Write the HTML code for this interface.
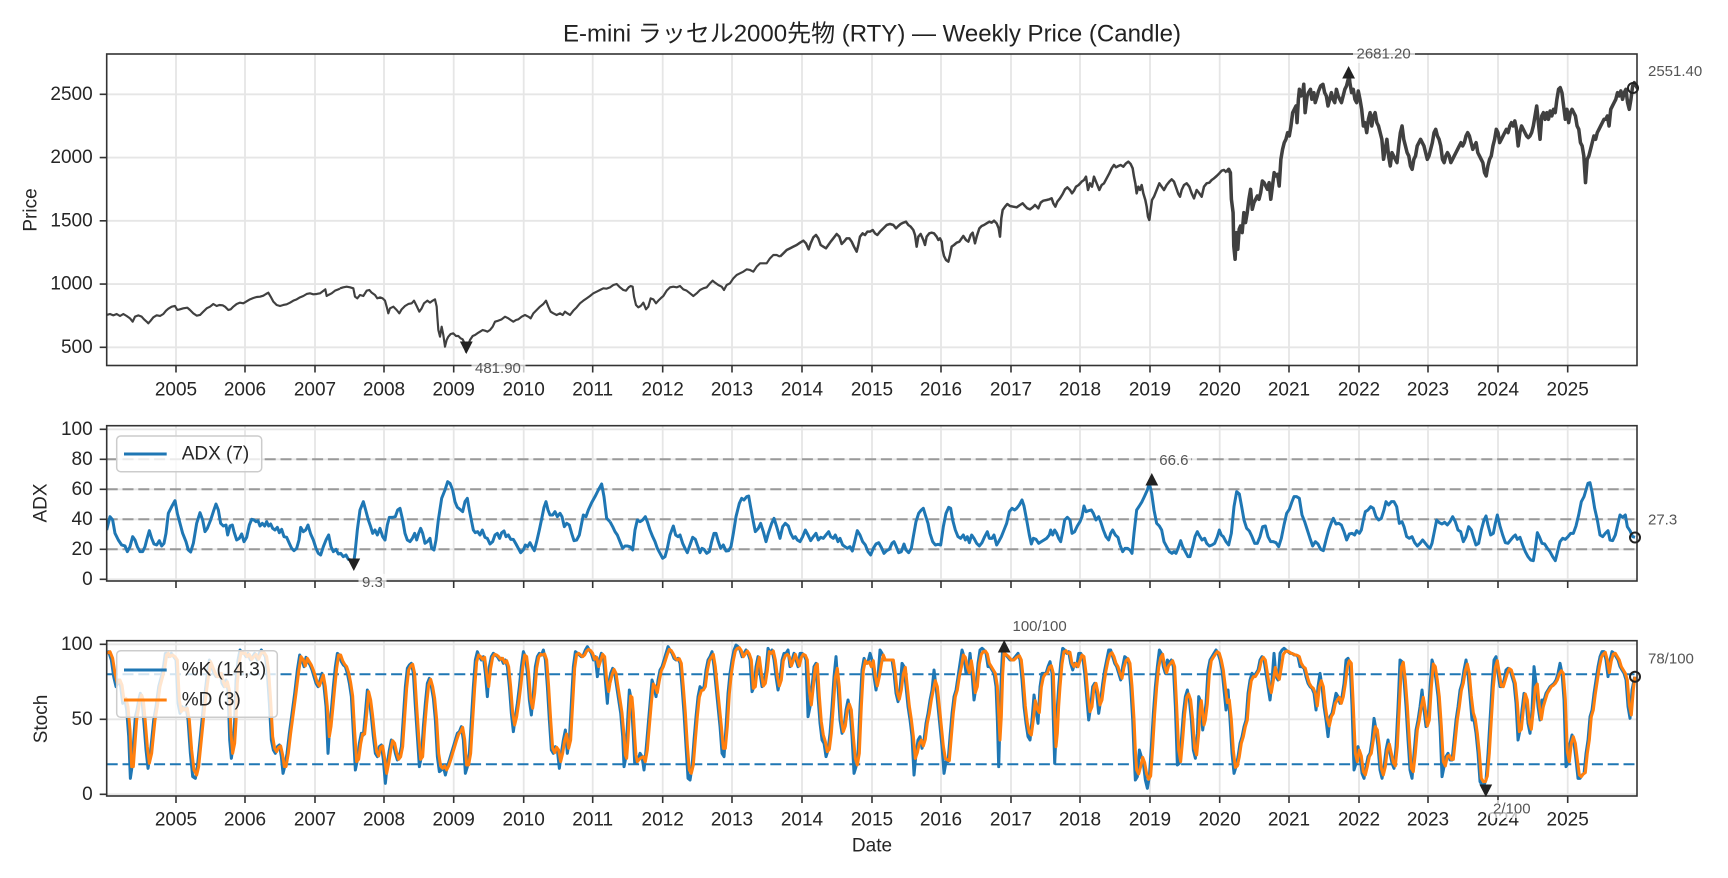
<!DOCTYPE html>
<html><head><meta charset="utf-8"><style>
html,body{margin:0;padding:0;background:#fff;}
svg{display:block;font-family:"Liberation Sans","Noto Sans CJK JP",sans-serif;}
</style></head><body>
<svg width="1728" height="878" viewBox="0 0 1728 878" xmlns="http://www.w3.org/2000/svg">
<rect width="1728" height="878" fill="#fff"/>
<defs>
<clipPath id="c1"><rect x="106.7" y="54" width="1530.3" height="311.5"/></clipPath>
<clipPath id="c2"><rect x="106.7" y="425.7" width="1530.3" height="155.3"/></clipPath>
<clipPath id="c3"><rect x="106.7" y="640.7" width="1530.3" height="155.3"/></clipPath>
</defs>

<!-- Title -->
<text x="872" y="34" text-anchor="middle" dominant-baseline="central" font-size="24" fill="#222">E-mini ラッセル2000先物 (RTY) — Weekly Price (Candle)</text>

<!-- ============ GRIDS ============ -->
<g stroke="#e6e6e6" stroke-width="1.8">
<path d="M176 54V365.5M245 54V365.5M315 54V365.5M384 54V365.5M453.7 54V365.5M523.7 54V365.5M592.7 54V365.5M662.7 54V365.5M732 54V365.5M802 54V365.5M872 54V365.5M941 54V365.5M1011 54V365.5M1080 54V365.5M1150 54V365.5M1219.7 54V365.5M1289 54V365.5M1359 54V365.5M1428 54V365.5M1498 54V365.5M1567.7 54V365.5"/>
<path d="M176 425.7V581M245 425.7V581M315 425.7V581M384 425.7V581M453.7 425.7V581M523.7 425.7V581M592.7 425.7V581M662.7 425.7V581M732 425.7V581M802 425.7V581M872 425.7V581M941 425.7V581M1011 425.7V581M1080 425.7V581M1150 425.7V581M1219.7 425.7V581M1289 425.7V581M1359 425.7V581M1428 425.7V581M1498 425.7V581M1567.7 425.7V581"/>
<path d="M176 640.7V796M245 640.7V796M315 640.7V796M384 640.7V796M453.7 640.7V796M523.7 640.7V796M592.7 640.7V796M662.7 640.7V796M732 640.7V796M802 640.7V796M872 640.7V796M941 640.7V796M1011 640.7V796M1080 640.7V796M1150 640.7V796M1219.7 640.7V796M1289 640.7V796M1359 640.7V796M1428 640.7V796M1498 640.7V796M1567.7 640.7V796"/>
<path d="M106.7 347.3H1637M106.7 284.05H1637M106.7 220.8H1637M106.7 157.55H1637M106.7 94.3H1637"/>
<path d="M106.7 579.3H1637M106.7 549.3H1637M106.7 519.3H1637M106.7 489.3H1637M106.7 459.3H1637M106.7 429.3H1637"/>
<path d="M106.7 794.3H1637M106.7 719.3H1637M106.7 644.3H1637"/>
</g>

<!-- dashed reference lines -->
<g stroke="#999" stroke-width="2" stroke-dasharray="11 4.8" fill="none">
<path d="M106.7 549.3H1637M106.7 519.3H1637M106.7 489.3H1637M106.7 459.3H1637"/>
</g>
<g stroke="#1f77b4" stroke-width="2" stroke-dasharray="11 4.8" fill="none">
<path d="M106.7 674.3H1637M106.7 764.3H1637"/>
</g>

<!-- ============ PRICE ============ -->
<g clip-path="url(#c1)" fill="none" stroke="#404040" stroke-linejoin="round">
<g transform="translate(60,40) scale(0.33333)" stroke-width="6.5">
<polyline points="140,825 150,822 160,826 170,822 180,828 190,822 200,828 210,835 218,845 225,830 235,826 245,830 252,838 260,845 265,850 272,842 280,832 290,826 300,828 310,822 318,812 325,806 335,800 345,798 352,810 360,808 370,805 382,803 390,810 400,820 410,827 420,825 430,815 440,805 450,800 460,792 470,798 478,795 488,796 495,800 505,810 512,808 520,800 530,792 540,788 550,790 560,784 570,778 580,774 590,771 600,770 610,767 618,762 625,758 632,770 640,785 650,795 660,798 670,795 680,793 690,788 700,782 710,778 720,772 730,768 740,762 750,760 760,763 770,762 780,760 788,754 796,748 800,768 805,765 815,760 825,752 835,748 840,746"/>
</g>
<g transform="translate(340,50) scale(0.33333)" stroke-width="6.5">
<polyline points="0,715 10,712 20,710 30,712 40,715 45,740 52,745 60,735 70,738 80,722 88,720 95,728 105,735 112,745 120,742 128,745 135,752 140,770 145,790 150,775 160,770 170,780 178,790 185,778 195,768 205,762 215,760 222,752 230,768 238,785 245,775 252,760 262,752 270,758 278,752 285,748 290,770 292,800 295,840 300,860 305,830 310,855 315,890 320,870 325,860 332,852 340,850 348,858 355,858 362,865 368,868 374,880 378,905 382,890 390,870 398,858 405,855 412,850 420,845 428,840 435,842 442,845 450,840 458,830 465,815 475,812 485,808 495,800 505,805 512,810 520,815 528,810 535,808 545,800 555,795 565,800 572,805 580,790 590,780 600,770 610,762 618,752 625,770 632,785 640,790 650,795 660,790 668,795 675,785 682,790 690,795 700,782 710,772 720,760 730,752 740,745 750,738 760,730 770,725 780,720 790,715 800,716 810,712 820,705 830,702 840,712 850,720 858,722 866,712 872,708 878,710 882,740 888,765 895,772 902,768 910,758 918,778 925,770 932,745 940,748 948,760 955,752 962,745 970,738 980,722 990,712 1000,710 1010,712 1020,708 1030,718 1040,722 1050,730 1060,738 1070,730 1080,720 1090,715 1100,712 1110,700 1118,692 1125,698 1135,705 1145,710 1152,720 1160,705 1170,700 1180,685 1190,675 1200,670 1210,665 1220,658 1230,660 1240,665 1250,650 1260,640 1270,640 1280,640 1290,625 1300,615 1310,615 1320,620"/>
</g>
<g transform="translate(780,50) scale(0.33333)" stroke-width="7.5">
<polyline points="0,620 10,610 20,600 30,595 40,590 50,585 60,578 70,572 78,580 86,598 92,580 100,562 108,555 115,565 122,585 130,590 138,595 145,585 152,575 160,565 170,552 178,560 185,582 192,575 200,565 208,565 215,575 222,590 230,605 235,585 240,560 248,550 255,555 262,545 270,545 278,540 285,550 292,555 300,545 310,535 320,525 330,522 340,525 348,535 355,528 362,522 370,518 378,515 385,525 392,530 400,540 405,555 410,590 415,560 422,552 430,570 435,585 440,560 448,550 455,548 462,550 470,560 475,570 480,565 485,575 488,600 492,618 498,630 505,635 510,615 515,590 522,585 530,578 538,575 545,565 550,558 558,570 565,575 572,555 578,548 585,580 590,560 598,535 605,528 612,525 620,520 628,515 635,518 642,512 650,520 656,535 660,560 664,505 668,480 675,470 682,462 690,468 700,470 710,472 720,465 728,460 735,468 742,475 750,478 758,472 765,465 770,470 775,475 782,458 790,452 800,450 808,448 815,445 820,460 826,470 832,455 840,445 848,432 855,418 862,412 870,420 876,430 882,422 888,410 896,405 905,395 912,390 918,380 924,420 930,400 936,410 942,380 950,400 958,420 965,405 972,400 980,385 988,370 995,355 1002,345 1008,352 1015,348 1022,345 1030,350 1038,340 1045,335 1052,342 1058,355 1062,380 1066,400 1070,430 1075,410 1080,420 1085,405 1090,430 1096,450 1100,470 1104,500 1108,510 1112,480 1116,450 1122,440 1130,420 1138,400 1145,410 1152,420 1160,405 1168,395 1175,388 1182,395 1188,412 1195,432 1200,440 1205,420 1212,405 1220,400 1228,410 1235,430 1242,445 1250,420 1258,430 1265,440 1272,410 1280,400 1288,398 1295,390 1302,385 1310,378 1318,370 1325,362 1332,360 1340,368"/>
</g>
<g transform="translate(1200.1,-0.7) scale(0.3366,0.33333)" stroke-width="10.5">
<polyline points="79,518 85,510 90,520 93,600 98,640 100,740 104,780 108,700 112,750 116,690 120,680 125,700 130,640 135,670 140,640 145,600 150,570 155,630 160,610 165,600 170,590 175,600 180,580 185,545 190,550 195,560 200,570 205,550 210,600 215,560 220,520 225,530 230,525 235,560 240,480 245,450 250,430 255,420 260,400 265,410 270,380 275,340 280,330 285,320 288,370 292,300 295,270 300,290 305,280 308,255 312,340 318,290 322,280 328,270 332,300 338,280 342,310 348,290 352,275 358,260 365,255 370,280 375,290 380,320 385,300 390,280 395,300 400,310 405,270 410,290 415,300 420,310 425,290 430,270 435,260 440,240 442,220 445,250 450,280 455,270 460,300 465,310 470,275 475,300 480,330 485,380 490,370 495,400 500,360 505,340 510,380 515,350 520,340 525,370 530,380 535,400 540,420 545,480 550,450 555,420 560,470 565,500 570,460 575,470 580,480 585,490 590,440 595,400 600,380 605,420 610,440 615,460 620,470 625,500 630,510 635,480 640,470 645,440 650,430 655,420 660,430 665,440 670,460 675,480 680,470 685,450 690,430 695,400 700,390 705,410 710,420 715,440 720,480 725,490 730,470 735,460 740,470 745,490 750,480 755,470 760,460 765,450 770,440 775,430 780,440 785,430 790,410 795,400 800,410 805,430 810,450 815,440 820,430 825,460 830,470 835,480 840,490 845,520 850,530 855,500 860,480 865,470 870,440 875,420 880,390 885,400 890,430 895,420 900,410 905,400 910,390 915,400 920,380 925,370 930,380 935,365 940,390 945,440 950,400 955,380 960,390 965,400 970,410 975,415 980,410 985,400 990,380 995,350 1000,320 1005,370 1010,420 1015,350 1020,340 1025,360 1030,340 1035,360 1040,335 1045,350 1050,330 1055,340 1060,300 1065,270 1070,265 1075,280 1080,320 1085,360 1090,330 1095,370 1100,340 1105,330 1110,340 1115,350 1120,380 1125,390 1130,430 1135,440 1140,470 1145,550 1150,480 1155,470 1160,450 1165,430 1170,410 1175,420 1180,400 1185,390 1190,380 1195,370 1200,360 1205,360 1210,350 1215,380 1220,330 1225,320 1230,310 1235,300 1240,280 1245,290 1250,275 1255,300 1260,280 1265,270 1270,310 1275,330 1280,300 1285,260 1290,250 1295,260 1300,268"/>
</g>
</g>

<!-- ============ ADX ============ -->
<g clip-path="url(#c2)" fill="none" stroke="#1f77b4" stroke-width="9" stroke-linejoin="round">
<g transform="translate(100,420) scale(0.33333)">
<polyline points="20,330 30,290 38,300 45,340 55,360 65,375 75,378 82,395 90,380 98,350 105,360 112,380 120,395 128,395 135,380 140,360 148,332 155,355 162,372 170,375 178,362 185,378 192,370 198,340 205,280 215,260 225,242 232,280 240,310 248,340 258,365 265,390 272,396 280,370 290,310 300,278 308,300 315,335 322,325 332,300 340,275 348,252 355,270 362,310 370,318 378,315 383,345 390,318 397,315 402,335 410,360 418,355 425,342 432,365 440,352 448,315 455,298 462,300 468,305 474,302 480,318 487,310 494,318 500,305 506,318 512,312 518,325 525,330 532,322 538,338 545,328 552,350 560,352 568,370 575,385 582,392 590,385 597,360 602,322 610,335 617,330 624,315 632,342 640,360 648,385 655,400 662,405 670,380 678,360 686,345 693,380 700,395 708,388 715,402 722,400 730,410 738,405 745,418 752,420 760,434 765,400 772,330 780,270 790,245 797,270 805,300 812,320 818,340 825,330 832,345 840,325 848,350 855,360 862,315 868,292 878,292 886,290 893,270 900,265 908,300 915,340 922,360 930,365 937,355 944,340 950,360 956,340 962,325 968,340 975,370 982,365 990,355 995,385 1002,390 1008,360 1015,300 1025,235 1035,210 1043,185 1050,190 1058,210 1065,245 1072,262 1080,268 1088,275 1095,245 1102,235 1108,270 1114,300 1120,330 1126,338 1133,335 1140,345 1147,330 1155,352 1162,355 1170,372 1178,365 1185,345 1192,340 1199,355 1205,338 1212,333 1218,350 1225,345 1232,358 1240,358 1248,372 1255,385 1262,398 1270,390 1276,375 1283,380 1290,368 1297,382 1303,392 1310,365 1318,330 1326,292 1332,262 1338,245 1344,270 1350,285 1358,285 1365,275 1372,290 1380,280 1386,290 1393,320 1400,310 1408,315 1415,340 1422,362 1430,360 1438,345 1445,310 1450,285 1458,290 1465,270 1475,248 1485,230 1495,210 1505,192 1512,230 1520,295 1530,305"/>
</g>
<g transform="translate(610,420) scale(0.33333)">
<polyline points="0,305 8,320 15,335 22,345 30,365 38,385 45,378 52,378 60,380 68,390 75,330 82,300 90,305 98,300 106,290 112,305 120,330 128,350 135,365 142,385 150,400 158,415 165,410 172,385 180,345 190,318 197,345 204,350 210,345 218,370 225,385 232,398 240,375 248,352 256,358 262,375 270,398 276,385 282,388 290,400 298,395 305,365 312,340 318,340 325,365 332,385 340,375 348,393 356,392 363,380 370,340 378,290 388,250 395,235 402,240 410,230 416,228 422,262 428,295 436,335 445,325 452,310 460,335 468,365 475,340 485,310 492,295 500,320 510,355 518,320 526,310 535,318 542,340 550,355 556,350 562,360 570,365 578,350 586,330 594,345 602,362 610,350 618,340 625,360 632,352 640,355 648,345 656,335 662,350 670,355 676,345 684,365 690,355 698,375 705,380 712,385 720,380 727,393 734,365 742,332 750,345 758,365 766,375 774,395 782,405 790,385 798,372 806,368 814,382 822,400 830,392 838,388 846,370 852,365 858,378 866,398 874,395 882,372 888,390 896,398 904,385 910,350 918,305 926,280 934,270 940,265 946,285 954,310 960,340 968,365 976,375 984,373 992,375 1000,320 1008,280 1016,262 1022,265 1028,300 1036,330 1044,350 1052,355 1060,345 1066,360 1072,350 1078,368 1085,345 1092,355 1100,370 1108,378 1116,368 1124,350 1132,335 1138,355 1146,355 1152,345 1160,375 1166,365 1174,350 1182,330 1190,310 1198,275 1206,265 1214,270 1220,265 1228,255 1236,240 1242,258 1250,300 1258,345 1264,372 1270,355 1278,358 1286,370 1294,365 1302,360 1310,355 1318,345 1322,330 1328,345 1334,330 1340,340 1346,355 1352,365 1358,335 1364,300 1372,292 1380,300 1386,340 1394,335 1402,318 1410,305 1416,290 1422,258 1428,275 1436,272 1444,270 1450,280 1458,300 1466,290 1472,305 1480,330 1488,350 1496,360 1502,340 1508,330 1516,345 1524,352 1530,375"/>
</g>
<g transform="translate(1120,420) scale(0.33333)">
<polyline points="0,375 8,395 15,385 22,385 30,390 36,400 42,340 50,270 58,258 66,245 74,228 82,210 88,190 95,220 102,270 110,310 118,318 125,330 132,365 140,380 148,395 156,400 162,395 168,400 176,380 182,362 188,380 196,395 204,410 210,410 218,380 225,350 232,335 240,350 246,360 254,355 260,370 268,378 276,375 284,370 292,350 298,330 304,345 310,350 318,365 326,375 334,340 342,260 350,215 358,222 365,260 372,300 380,325 388,333 396,350 404,370 412,370 420,350 428,320 436,318 444,350 452,365 460,365 468,368 476,380 484,355 492,315 500,280 508,268 516,245 522,230 530,230 538,235 546,285 554,305 562,330 570,355 578,378 586,365 594,372 602,388 610,392 618,360 626,330 634,308 640,295 648,312 656,310 664,315 672,335 680,360 688,342 696,340 704,345 710,332 718,340 724,330 730,300 736,275 744,270 752,260 760,265 768,290 776,300 784,295 792,270 798,245 806,255 814,245 822,245 830,260 838,310 846,305 852,320 860,350 868,355 876,350 884,368 892,378 900,370 908,360 916,370 924,380 930,385 936,370 944,330 950,300 958,308 966,312 974,307 982,315 990,305 998,290 1006,305 1014,330 1022,335 1030,365 1038,350 1046,320 1054,330 1060,350 1068,375 1076,370 1084,330 1092,300 1098,288 1104,315 1112,345 1120,340 1126,310 1132,285 1140,318 1148,345 1156,368 1164,370 1172,360 1180,350 1186,345 1192,358 1200,352 1208,375 1216,395 1224,410 1232,420 1240,422 1246,385 1252,338 1258,350 1266,370 1274,372 1282,385 1290,395 1298,410 1306,422 1312,398 1320,365 1328,355 1336,358 1344,350 1352,340 1360,340 1368,318 1376,285 1384,245 1392,230 1398,210 1404,190 1410,188 1416,215 1424,265 1432,300 1440,345 1448,350 1456,340 1464,332 1470,360 1478,362 1486,345 1494,310 1500,285 1508,292 1516,285 1522,320 1530,332 1538,350 1545,352"/>
</g>
</g>

<!-- ============ STOCH ============ -->
<g clip-path="url(#c3)" fill="none" stroke-width="9" stroke-linejoin="round">
<g stroke="#1f77b4">
<g transform="translate(98.7,420) scale(0.33333)">
<polyline points="20,700 30,695 38,720 45,770 52,800 60,780 66,800 72,850 78,835 84,870 90,950 95,1075 100,1040 105,960 110,890 115,870 120,840 125,820 130,840 135,900 142,990 148,1045 155,1000 160,950 165,900 172,860 180,800 188,770 195,735 200,700 205,700 210,710 218,700 225,710 232,720 238,850 244,880 250,860 256,870 262,860 268,900 275,1000 282,1070 290,1075 296,1040 302,980 308,920 314,860 320,810 326,760 332,720 338,740 346,760 352,770 358,770 364,760 370,790 376,800 382,780 388,810 393,960 398,1015 404,970 408,900 412,780 418,720 424,690 430,700 436,700 442,710 448,700 455,720 462,710 468,700 476,720 482,700 488,690 494,700 500,710 506,760 512,850 518,960 524,990 530,1000 536,980 542,975 548,1010 553,1060 558,1040 565,1000 572,940 580,880 588,820 596,750 603,705 610,720 616,740 622,712 628,725 634,735 640,750 646,770 652,790 658,800 664,780 670,760 676,800 682,860 688,1000 693,920 698,870 704,800 710,740 716,700 722,705 728,725 734,735 740,740 746,760 752,790 758,830 764,940 770,1050 776,1020 782,970 788,940 794,945 800,880 806,810 812,840 818,890 824,950 830,1000 836,1010 842,980 848,975 854,1020 860,1090 866,1030 872,990 878,960 884,970 890,1000 896,1020 902,1010 908,980 914,890 920,800 926,745 932,735 938,730 944,760 950,860 956,950 962,1040 968,1010 974,920 980,850 986,790 992,775 998,800 1004,835 1010,900 1016,1010 1022,1055 1028,1050 1034,1040 1040,1065 1046,1040 1052,1020 1058,1000 1064,980 1070,960 1076,940 1082,935 1088,920 1094,960 1100,1060 1106,1040 1112,1000 1118,900 1124,800 1130,720 1136,695 1142,710 1148,720 1154,710 1160,760 1166,830 1172,740 1178,710 1184,700 1190,705 1196,710 1202,720 1208,715 1214,730 1220,720 1226,740 1232,800 1238,880 1244,935 1250,890 1256,850 1262,800 1268,740 1274,695 1280,710 1286,760 1292,840 1298,885 1304,820 1310,740 1316,710 1322,700 1328,705 1334,690 1340,720 1346,800 1352,900 1358,990 1364,1000 1370,980 1376,990 1382,1045 1388,1000 1394,960 1400,930 1406,1000 1412,960 1418,850 1424,740 1430,695 1436,700 1442,705 1448,710 1454,705 1460,690 1466,680 1472,690 1478,700 1484,720 1490,710 1496,770 1502,720 1508,700 1514,710 1520,780 1526,850 1530,790"/>
</g>
<g transform="translate(608.7,420) scale(0.33333)">
<polyline points="0,790 6,760 12,745 18,760 24,800 30,840 36,880 42,950 46,1040 50,1020 54,960 58,880 62,810 66,830 70,880 74,950 78,1030 82,1030 88,1020 94,1000 100,1010 106,1050 112,990 118,920 124,850 130,780 136,800 142,830 148,780 154,750 160,740 166,720 172,700 178,680 184,690 190,700 196,715 202,720 208,715 214,730 220,800 226,880 232,980 238,1075 244,1080 250,1040 256,960 262,890 268,830 274,800 280,810 286,800 292,750 298,720 304,710 310,695 316,740 322,800 328,860 334,920 340,1000 346,1010 352,920 358,820 364,760 370,720 376,690 382,675 388,680 394,690 400,710 406,700 412,690 418,700 424,720 430,815 436,800 442,740 448,710 454,760 460,800 466,790 472,750 478,685 484,700 490,690 496,720 502,770 508,810 514,780 520,720 526,700 532,700 538,690 544,740 550,720 556,700 562,720 568,740 574,700 580,700 586,705 592,720 598,890 604,860 610,800 616,740 622,730 628,830 634,910 640,960 646,970 652,1010 658,990 664,940 670,860 676,770 682,710 688,800 694,900 700,940 706,920 712,870 718,840 724,870 730,950 736,1060 742,1040 748,1000 754,860 760,750 766,715 772,730 778,725 784,700 790,720 796,770 802,810 808,770 814,690 820,700 826,720 832,720 838,720 844,720 850,720 856,760 862,820 868,845 874,810 880,730 886,740 892,800 898,860 904,900 910,950 916,1065 922,1000 928,960 934,950 940,985 946,960 952,910 958,880 964,840 970,810 976,750 982,800 988,860 994,920 1000,980 1006,1060 1012,1025 1018,1025 1024,950 1030,880 1036,830 1042,810 1048,770 1054,730 1060,690 1066,710 1072,760 1078,760 1084,700 1090,760 1096,840 1102,800 1108,730 1114,690 1120,685 1126,690 1132,700 1138,740 1144,740 1150,750 1156,760 1162,800 1166,900 1170,1040 1174,900 1178,760 1182,685 1188,700 1196,710 1204,720 1212,720 1220,710 1228,700 1234,720 1240,780 1246,860 1252,910 1258,950 1264,960 1270,900 1276,825 1282,870 1288,910 1294,800 1300,760 1306,760 1312,760 1318,740 1324,725 1330,760 1334,900 1338,1030 1342,940 1346,860 1350,800 1356,730 1362,685 1368,690 1374,700 1380,695 1386,730 1392,750 1398,730 1404,740 1410,700 1416,700 1422,710 1428,760 1434,830 1440,900 1446,860 1452,800 1458,790 1464,820 1470,880 1476,840 1482,790 1488,750 1494,720 1500,690 1506,690 1512,710 1518,730 1524,740 1530,760"/>
</g>
<g transform="translate(1118.7,420) scale(0.33333)">
<polyline points="0,760 6,780 12,740 18,710 24,715 30,730 36,800 42,900 46,1000 50,1080 56,1070 62,990 68,1010 74,1030 80,1080 86,1105 92,1070 98,980 104,880 110,800 116,740 122,690 128,700 134,740 140,760 146,720 152,730 158,720 164,740 170,860 176,1035 182,1030 188,960 194,880 200,830 206,810 212,840 218,900 224,990 230,1015 236,940 240,830 244,840 248,880 252,930 256,900 262,850 268,750 274,720 280,710 286,700 292,690 298,700 304,720 310,750 316,810 322,870 328,810 334,900 340,1000 346,1060 352,1040 358,1010 364,970 370,950 376,920 382,900 388,820 394,780 400,760 406,770 412,760 418,750 424,720 430,710 436,720 442,760 448,800 454,840 460,780 466,700 472,770 478,780 484,700 490,690 496,685 502,690 508,695 514,700 520,700 526,705 532,705 538,710 544,740 550,740 556,745 562,770 568,790 574,800 580,805 586,820 592,870 598,800 604,760 610,800 616,860 622,900 628,950 634,890 640,880 646,850 652,820 658,830 664,850 670,830 676,790 682,720 688,715 694,730 700,860 706,1050 712,1030 718,980 724,1010 730,1060 736,1075 742,1040 748,1010 754,1000 760,960 766,895 772,930 778,980 784,1050 790,1075 796,1040 802,990 808,960 814,1000 820,1030 826,1045 832,980 838,860 844,720 850,725 856,780 862,860 868,960 874,1050 880,1075 886,1000 892,930 898,900 904,860 910,810 916,870 922,920 928,900 934,800 940,720 946,740 952,780 958,830 964,920 970,1070 976,1040 982,1010 988,1000 994,1020 1000,1020 1006,960 1012,900 1018,860 1024,810 1030,790 1036,750 1042,720 1048,760 1054,830 1060,900 1066,900 1072,940 1078,1000 1084,1085 1090,1095 1096,1095 1102,1080 1108,1000 1114,900 1120,800 1126,720 1132,710 1138,760 1144,800 1150,800 1156,780 1162,750 1168,745 1174,750 1180,770 1186,790 1192,850 1198,960 1204,930 1210,870 1216,820 1222,840 1228,910 1234,940 1240,870 1246,740 1252,790 1258,860 1264,900 1270,840 1276,840 1282,820 1288,810 1294,800 1300,795 1306,790 1312,780 1318,760 1324,730 1330,760 1336,840 1342,1040 1348,1030 1354,970 1360,945 1366,970 1372,1020 1378,1075 1384,1075 1390,1065 1396,1060 1402,1000 1408,960 1414,890 1420,870 1426,820 1432,780 1438,740 1444,710 1450,695 1456,695 1462,720 1468,770 1474,720 1480,695 1486,700 1492,710 1498,720 1504,740 1510,750 1516,760 1522,780 1528,860 1534,895 1540,810 1548,770"/>
</g>
</g>
<g stroke="#ff7f0e">
<g transform="translate(100,420) scale(0.33333)">
<polyline points="20,700 30,695 38,715 45,760 52,790 60,780 66,795 72,840 78,835 84,860 90,930 95,1040 100,1040 105,970 110,900 115,870 120,840 125,825 130,840 135,895 142,980 148,1030 155,1000 160,950 165,900 172,860 180,800 188,770 195,740 200,705 205,700 210,710 218,705 225,710 232,720 238,840 244,875 250,865 256,870 262,865 268,900 275,990 282,1050 290,1065 296,1040 302,980 308,920 314,860 320,810 326,765 332,725 338,740 346,760 352,770 358,770 364,760 370,785 376,800 382,785 388,810 393,940 398,1000 404,970 408,905 412,790 418,725 424,695 430,700 436,700 442,710 448,703 455,718 462,710 468,703 476,718 482,703 488,695 494,700 500,710 506,755 512,840 518,950 524,985 530,995 536,982 542,978 548,1005 553,1040 558,1040 565,1000 572,940 580,880 588,820 596,755 603,710 610,720 616,738 622,715 628,725 634,735 640,750 646,768 652,788 658,798 664,782 670,765 676,800 682,860 688,950 693,920 698,870 704,805 710,745 716,705 722,705 728,722 734,733 740,740 746,758 752,788 758,828 764,935 770,1025 776,1018 782,972 788,942 794,942 800,882 806,815 812,840 818,888 824,948 830,995 836,1008 842,982 848,978 854,1015 860,1060 866,1030 872,992 878,962 884,970 890,998 896,1018 902,1010 908,980 914,892 920,805 926,750 932,738 938,733 944,760 950,858 956,948 962,1018 968,1010 974,922 980,852 986,795 992,778 998,800 1004,835 1010,898 1016,1000 1022,1038 1028,1045 1034,1038 1040,1050 1046,1038 1052,1020 1058,1000 1064,980 1070,960 1076,942 1082,935 1088,922 1094,958 1100,1035 1106,1035 1112,1000 1118,902 1124,805 1130,725 1136,705 1142,710 1148,718 1154,712 1160,760 1166,800 1172,745 1178,712 1184,703 1190,705 1196,710 1202,718 1208,715 1214,728 1220,722 1226,740 1232,800 1238,878 1244,915 1250,890 1256,850 1262,802 1268,745 1274,705 1280,710 1286,760 1292,838 1298,865 1304,820 1310,745 1316,712 1322,703 1328,705 1334,702 1340,720 1346,800 1352,898 1358,985 1364,998 1370,982 1376,990 1382,1025 1388,1000 1394,962 1400,942 1406,985 1412,960 1418,852 1424,745 1430,703 1436,700 1442,705 1448,710 1454,705 1460,693 1466,688 1472,692 1478,700 1484,718 1490,712 1496,740 1502,722 1508,703 1514,710 1520,778 1526,815 1530,790"/>
</g>
<g transform="translate(610,420) scale(0.33333)">
<polyline points="0,790 6,765 12,748 18,760 24,800 30,838 36,878 42,945 46,1005 50,1015 54,960 58,882 62,828 66,832 70,878 74,948 78,1005 82,1025 88,1018 94,1013 100,1010 106,1025 112,990 118,920 124,850 130,792 136,800 142,818 148,782 154,752 160,740 166,722 172,703 178,688 184,692 190,702 196,715 202,720 208,716 214,730 220,800 226,878 232,975 238,1050 244,1060 250,1035 256,960 262,890 268,832 274,812 280,810 286,800 292,752 298,722 304,712 310,703 316,740 322,800 328,858 334,918 340,985 346,985 352,920 358,822 364,762 370,722 376,693 382,685 388,683 394,692 400,710 406,702 412,693 418,702 424,720 430,805 436,800 442,742 448,712 454,758 460,798 466,790 472,752 478,695 484,700 490,693 496,720 502,768 508,798 514,780 520,722 526,707 532,703 538,710 544,738 550,722 556,703 562,720 568,738 574,712 580,703 586,706 592,720 598,815 604,855 610,800 616,742 622,732 628,828 634,905 640,945 646,965 652,995 658,988 664,940 670,860 676,772 682,745 688,800 694,898 700,935 706,918 712,870 718,852 724,870 730,948 736,1015 742,1035 748,1000 754,860 760,752 766,722 772,730 778,726 784,740 790,722 796,768 802,798 808,770 814,733 820,705 826,720 832,720 838,720 844,720 850,720 856,760 862,818 868,838 874,810 880,762 886,742 892,800 898,858 904,898 910,948 916,1015 922,998 928,970 934,960 940,978 946,958 952,910 958,880 964,840 970,810 976,782 982,800 988,858 994,918 1000,978 1006,1015 1012,1020 1018,1022 1024,950 1030,880 1036,830 1042,810 1048,770 1054,742 1060,705 1066,712 1072,740 1078,758 1084,722 1090,760 1096,818 1102,800 1108,732 1114,703 1120,695 1126,693 1132,702 1138,730 1144,740 1150,750 1156,760 1162,798 1166,880 1170,960 1174,890 1178,765 1182,700 1188,703 1196,710 1204,720 1212,720 1220,712 1228,707 1234,720 1240,778 1246,858 1252,908 1258,938 1264,945 1270,900 1276,842 1282,868 1288,878 1294,802 1300,772 1306,762 1312,760 1318,742 1324,737 1330,760 1334,880 1338,980 1342,940 1346,860 1350,802 1356,732 1362,695 1368,692 1374,700 1380,697 1386,730 1392,740 1398,730 1404,740 1410,722 1416,705 1422,710 1428,758 1434,828 1440,875 1446,860 1452,802 1458,790 1464,818 1470,855 1476,840 1482,792 1488,752 1494,722 1500,703 1506,698 1512,710 1518,730 1524,740 1530,760"/>
</g>
<g transform="translate(1120,420) scale(0.33333)">
<polyline points="0,760 6,775 12,742 18,722 24,716 30,730 36,798 42,895 46,990 50,1050 56,1062 62,1040 68,1012 74,1028 80,1062 86,1078 92,1068 98,982 104,882 110,802 116,742 122,713 128,703 134,738 140,758 146,737 152,730 158,722 164,740 170,858 176,990 182,1025 188,960 194,882 200,832 206,822 212,840 218,898 224,985 230,1005 236,942 240,872 244,842 248,878 252,915 256,900 262,852 268,762 274,722 280,712 286,703 292,695 298,700 304,720 310,750 316,800 322,848 328,840 334,898 340,990 346,1042 352,1038 358,1010 364,970 370,950 376,920 382,900 388,822 394,782 400,770 406,770 412,760 418,750 424,722 430,712 436,720 442,758 448,798 454,818 460,782 466,742 472,768 478,778 484,742 490,703 496,695 502,693 508,696 514,700 520,702 526,705 532,706 538,710 544,730 550,740 556,745 562,770 568,790 574,800 580,805 586,820 592,858 598,802 604,782 610,800 616,858 622,898 628,918 634,890 640,880 646,850 652,840 658,832 664,850 670,830 676,792 682,742 688,722 694,730 700,858 706,1000 712,1025 718,990 724,1008 730,1055 736,1065 742,1040 748,1010 754,1000 760,960 766,920 772,930 778,978 784,1045 790,1065 796,1040 802,990 808,972 814,1000 820,1028 826,1038 832,980 838,860 844,742 850,727 856,780 862,858 868,958 874,1045 880,1055 886,1000 892,930 898,900 904,860 910,832 916,870 922,918 928,900 934,802 940,732 946,740 952,780 958,830 964,918 970,1025 976,1038 982,1010 988,1006 994,1018 1000,1018 1006,960 1012,900 1018,860 1024,812 1030,790 1036,752 1042,732 1048,760 1054,828 1060,878 1066,898 1072,940 1078,998 1084,1075 1090,1085 1096,1085 1102,1068 1108,1000 1114,900 1120,802 1126,742 1132,722 1138,760 1144,798 1150,800 1156,780 1162,760 1168,746 1174,750 1180,770 1186,790 1192,848 1198,935 1204,928 1210,870 1216,822 1222,840 1228,908 1234,928 1240,870 1246,802 1252,792 1258,858 1264,898 1270,860 1276,840 1282,820 1288,810 1294,800 1300,796 1306,790 1312,780 1318,762 1324,752 1330,760 1336,838 1342,995 1348,1025 1354,970 1360,950 1366,970 1372,1018 1378,1065 1384,1070 1390,1062 1396,1058 1402,1000 1408,960 1414,890 1420,870 1426,822 1432,782 1438,742 1444,712 1450,702 1456,697 1462,720 1468,758 1474,722 1480,702 1486,700 1492,710 1498,720 1504,740 1510,750 1516,760 1522,780 1528,855 1534,885 1540,810 1545,770"/>
</g>
</g>
</g>

<!-- ============ SPINES ============ -->
<g fill="none" stroke="#333" stroke-width="1.6">
<rect x="106.7" y="54" width="1530.3" height="311.5"/>
<rect x="106.7" y="425.7" width="1530.3" height="155.3"/>
<rect x="106.7" y="640.7" width="1530.3" height="155.3"/>
</g>

<!-- ============ TICKS ============ -->
<g stroke="#333" stroke-width="1.6">
<path d="M176 365.5v7M245 365.5v7M315 365.5v7M384 365.5v7M453.7 365.5v7M523.7 365.5v7M592.7 365.5v7M662.7 365.5v7M732 365.5v7M802 365.5v7M872 365.5v7M941 365.5v7M1011 365.5v7M1080 365.5v7M1150 365.5v7M1219.7 365.5v7M1289 365.5v7M1359 365.5v7M1428 365.5v7M1498 365.5v7M1567.7 365.5v7"/>
<path d="M176 581v7M245 581v7M315 581v7M384 581v7M453.7 581v7M523.7 581v7M592.7 581v7M662.7 581v7M732 581v7M802 581v7M872 581v7M941 581v7M1011 581v7M1080 581v7M1150 581v7M1219.7 581v7M1289 581v7M1359 581v7M1428 581v7M1498 581v7M1567.7 581v7"/>
<path d="M176 796v7M245 796v7M315 796v7M384 796v7M453.7 796v7M523.7 796v7M592.7 796v7M662.7 796v7M732 796v7M802 796v7M872 796v7M941 796v7M1011 796v7M1080 796v7M1150 796v7M1219.7 796v7M1289 796v7M1359 796v7M1428 796v7M1498 796v7M1567.7 796v7"/>
<path d="M106.7 347.3h-7M106.7 284.05h-7M106.7 220.8h-7M106.7 157.55h-7M106.7 94.3h-7"/>
<path d="M106.7 579.3h-7M106.7 549.3h-7M106.7 519.3h-7M106.7 489.3h-7M106.7 459.3h-7M106.7 429.3h-7"/>
<path d="M106.7 794.3h-7M106.7 719.3h-7M106.7 644.3h-7"/>
</g>

<!-- ============ TICK LABELS ============ -->
<g font-size="19" fill="#262626" dominant-baseline="central">
<g text-anchor="end">
<text x="92.7" y="347.3">500</text><text x="92.7" y="284.05">1000</text><text x="92.7" y="220.8">1500</text><text x="92.7" y="157.55">2000</text><text x="92.7" y="94.3">2500</text>
<text x="92.7" y="579.3">0</text><text x="92.7" y="549.3">20</text><text x="92.7" y="519.3">40</text><text x="92.7" y="489.3">60</text><text x="92.7" y="459.3">80</text><text x="92.7" y="429.3">100</text>
<text x="92.7" y="794.3">0</text><text x="92.7" y="719.3">50</text><text x="92.7" y="644.3">100</text>
</g>
<g text-anchor="middle">
<text x="176" y="390">2005</text><text x="245" y="390">2006</text><text x="315" y="390">2007</text><text x="384" y="390">2008</text><text x="453.7" y="390">2009</text><text x="523.7" y="390">2010</text><text x="592.7" y="390">2011</text><text x="662.7" y="390">2012</text><text x="732" y="390">2013</text><text x="802" y="390">2014</text><text x="872" y="390">2015</text><text x="941" y="390">2016</text><text x="1011" y="390">2017</text><text x="1080" y="390">2018</text><text x="1150" y="390">2019</text><text x="1219.7" y="390">2020</text><text x="1289" y="390">2021</text><text x="1359" y="390">2022</text><text x="1428" y="390">2023</text><text x="1498" y="390">2024</text><text x="1567.7" y="390">2025</text>
<text x="176" y="820">2005</text><text x="245" y="820">2006</text><text x="315" y="820">2007</text><text x="384" y="820">2008</text><text x="453.7" y="820">2009</text><text x="523.7" y="820">2010</text><text x="592.7" y="820">2011</text><text x="662.7" y="820">2012</text><text x="732" y="820">2013</text><text x="802" y="820">2014</text><text x="872" y="820">2015</text><text x="941" y="820">2016</text><text x="1011" y="820">2017</text><text x="1080" y="820">2018</text><text x="1150" y="820">2019</text><text x="1219.7" y="820">2020</text><text x="1289" y="820">2021</text><text x="1359" y="820">2022</text><text x="1428" y="820">2023</text><text x="1498" y="820">2024</text><text x="1567.7" y="820">2025</text>
<text x="872" y="846">Date</text>
</g>
<text transform="translate(31,210) rotate(-90)" text-anchor="middle">Price</text>
<text transform="translate(41,503) rotate(-90)" text-anchor="middle">ADX</text>
<text transform="translate(41.5,719) rotate(-90)" text-anchor="middle">Stoch</text>
</g>

<!-- ============ LEGENDS ============ -->
<rect x="116.7" y="436" width="145" height="35.7" rx="4" fill="#fff" fill-opacity="0.8" stroke="#cccccc" stroke-width="1.5"/>
<line x1="124" y1="454" x2="166.7" y2="454" stroke="#1f77b4" stroke-width="3"/>
<text x="181.7" y="454" font-size="19" fill="#262626" dominant-baseline="central">ADX (7)</text>

<rect x="116.7" y="650.7" width="160.6" height="66.6" rx="4" fill="#fff" fill-opacity="0.8" stroke="#cccccc" stroke-width="1.5"/>
<line x1="124" y1="670" x2="166.7" y2="670" stroke="#1f77b4" stroke-width="3"/>
<line x1="124" y1="700" x2="166.7" y2="700" stroke="#ff7f0e" stroke-width="3"/>
<text x="181.7" y="670" font-size="19" fill="#262626" dominant-baseline="central">%K (14,3)</text>
<text x="181.7" y="700" font-size="19" fill="#262626" dominant-baseline="central">%D (3)</text>

<!-- ============ MARKERS ============ -->
<g fill="#222">
<polygon points="1348.6,66 1342.2,78.5 1355,78.5"/>
<polygon points="466.3,354 459.9,341.5 472.7,341.5"/>
<polygon points="353.8,571 347.4,558.5 360.2,558.5"/>
<polygon points="1151.8,473 1145.4,485.5 1158.2,485.5"/>
<polygon points="1004.2,640 997.8,652.5 1010.6,652.5"/>
<polygon points="1485.8,797 1479.4,784.5 1492.2,784.5"/>
</g>
<g fill="none" stroke="#222" stroke-width="2">
<circle cx="1633" cy="88" r="5"/>
<circle cx="1635" cy="537.5" r="5"/>
<circle cx="1635" cy="676.7" r="5"/>
</g>

<!-- ============ ANNOTATION LABELS ============ -->
<g fill="#fff" fill-opacity="0.7">
<rect x="1353" y="45" width="62" height="18" rx="3"/>
<rect x="471.5" y="359.5" width="54" height="18" rx="3"/>
<rect x="358.5" y="573.7" width="28" height="18" rx="3"/>
<rect x="1156" y="451.3" width="35" height="18" rx="3"/>
<rect x="1009" y="617.7" width="66" height="18" rx="3"/>
<rect x="1489.5" y="800" width="49" height="18" rx="3"/>
</g>
<g font-size="15" fill="#555" dominant-baseline="central">
<text x="1356.5" y="54">2681.20</text>
<text x="475" y="368.5">481.90</text>
<text x="362" y="582.7">9.3</text>
<text x="1159.3" y="460.3">66.6</text>
<text x="1012.5" y="626.7">100/100</text>
<text x="1493" y="809">2/100</text>
<text x="1648" y="71.7">2551.40</text>
<text x="1648" y="520">27.3</text>
<text x="1648" y="659">78/100</text>
</g>
</svg>
</body></html>
